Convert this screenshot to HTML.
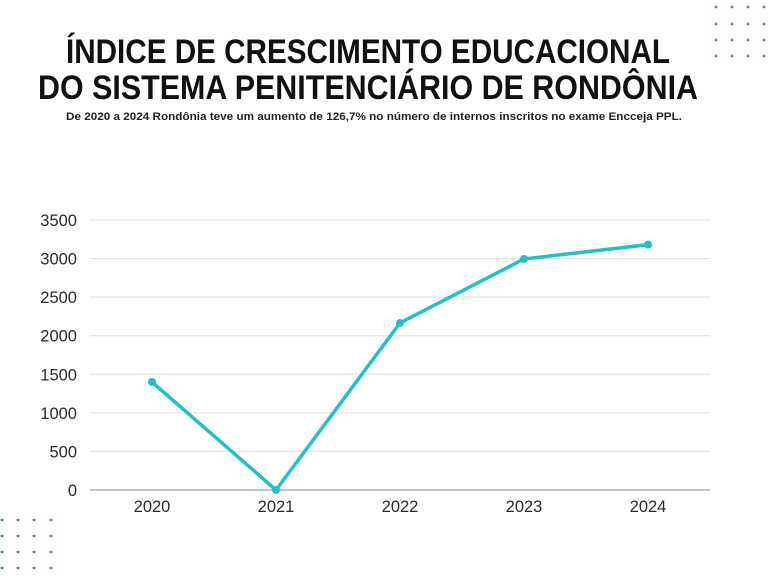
<!DOCTYPE html>
<html><head><meta charset="utf-8"><style>
html,body{margin:0;padding:0;background:#fff;}
svg{display:block;font-family:"Liberation Sans",sans-serif;}
</style></head><body>
<svg id="chart" width="768" height="576" viewBox="0 0 768 576">
<g id="dots-tr"></g>
<g id="dots-bl"></g>
<text x="66" y="63" textLength="604" lengthAdjust="spacingAndGlyphs" font-size="34" font-weight="bold" fill="#111">ÍNDICE DE CRESCIMENTO EDUCACIONAL</text>
<text x="38" y="99" textLength="660" lengthAdjust="spacingAndGlyphs" font-size="34" font-weight="bold" fill="#111">DO SISTEMA PENITENCIÁRIO DE RONDÔNIA</text>
<text x="66" y="120" textLength="616" lengthAdjust="spacingAndGlyphs" font-size="11" font-weight="bold" fill="#222">De 2020 a 2024 Rondônia teve um aumento de 126,7% no número de internos inscritos no exame Encceja PPL.</text>
<g id="grid"></g>
<g id="yaxis"></g>
<g id="xaxis"></g>
<g id="series"></g>
</svg>
<script>
const categories = ["2020","2021","2022","2023","2024"];
const values = [1400, 0, 2165, 2995, 3180];
const yTicks = [0,500,1000,1500,2000,2500,3000,3500];
const yTickLabels = ["0","500","1000","1500","2000","2500","3000","3500"];

const NS="http://www.w3.org/2000/svg";
const L=90,R=710,T=220,B=490,YMAX=3500;
const band=(R-L)/categories.length;
const xS=i=>L+band*(i+0.5);
const yS=v=>B-(v/YMAX)*(B-T);
function mk(tag,attrs,parent){const e=document.createElementNS(NS,tag);for(const k in attrs)e.setAttribute(k,attrs[k]);parent.appendChild(e);return e;}

const tr=document.getElementById('dots-tr');
[7,24,40,56].forEach(y=>[716,732,748,764].forEach(x=>{const c=mk('circle',{cx:x,cy:y,r:1.4,fill:'#3a8f9a'},tr);

}));
const bl=document.getElementById('dots-bl');
[520,536,552,568].forEach(y=>[2,18,34,51].forEach(x=>{const c=mk('circle',{cx:x,cy:y,r:1.4,fill:'#3a8f9a'},bl);

}));

const grid=document.getElementById('grid'),ya=document.getElementById('yaxis'),xa=document.getElementById('xaxis');
yTicks.forEach((v,i)=>{
 const ln=mk('line',{x1:L,x2:R,y1:yS(v),y2:yS(v),stroke:v===0?'#b0b0b0':'#dedede','stroke-width':v===0?1.5:1},grid);
 
 
 const t=mk('text',{x:77,y:yS(v)+6,'text-anchor':'end','font-size':16.5,fill:'#2a2a2a'},ya);
 t.textContent=yTickLabels[i];
 
 
});
categories.forEach((c,i)=>{
 const t=mk('text',{x:xS(i),y:512,'text-anchor':'middle','font-size':16.5,fill:'#2a2a2a'},xa);
 t.textContent=c;
 
 
});
const s=document.getElementById('series');
const pl=mk('polyline',{points:values.map((v,i)=>xS(i)+','+yS(v)).join(' '),fill:'none',stroke:'#22c0cc','stroke-width':3.5,'stroke-linejoin':'round'},s);


values.forEach((v,i)=>{
 const p=mk('circle',{cx:xS(i),cy:yS(v),r:4,fill:'#22c0cc'},s);
 
 
});
</script>
</body></html>
